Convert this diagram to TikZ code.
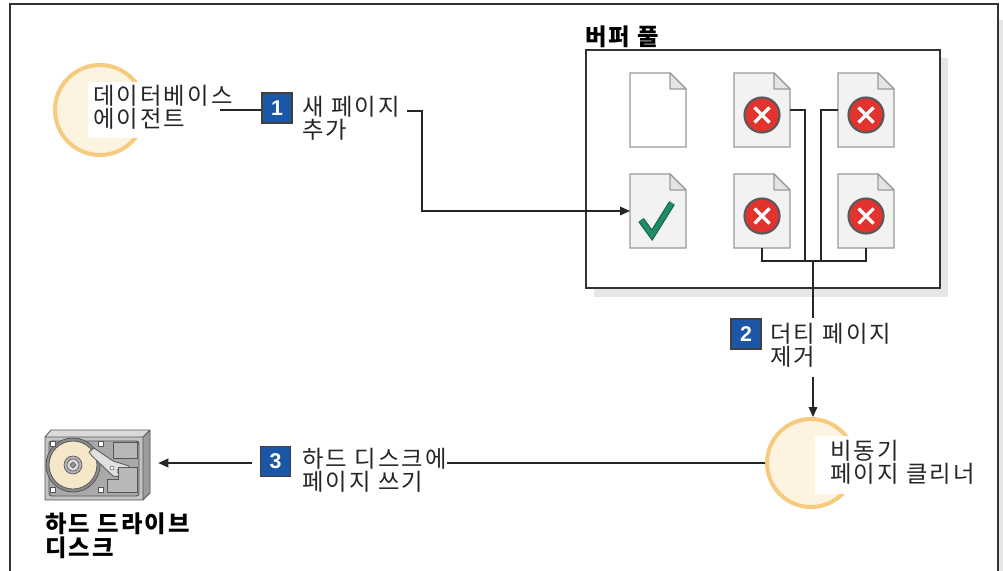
\documentclass[tikz,border=0pt]{standalone}
\usepackage{fontspec}
\setmainfont{Noto Sans CJK KR}[LetterSpace=9]
\newfontfamily\numfont{Liberation Sans}
\usetikzlibrary{arrows.meta,calc}

\definecolor{badgeblue}{HTML}{1B57A4}
\definecolor{ringgold}{HTML}{F6CB7E}
\definecolor{circfill}{HTML}{FCF3E0}
\definecolor{framegray}{HTML}{333333}
\definecolor{shadowgray}{HTML}{E6E6E6}
\definecolor{pagegray}{HTML}{F2F2F2}
\definecolor{pageedge}{HTML}{9A9A9A}
\definecolor{foldgray}{HTML}{E4E4E4}
\definecolor{xred}{HTML}{E2332F}
\definecolor{checkgreen}{HTML}{1E8E6A}
\definecolor{checkdark}{HTML}{14604A}
\definecolor{hddface}{HTML}{C4C4C4}
\definecolor{hddtop}{HTML}{DADADA}
\definecolor{hddside}{HTML}{9C9C9C}
\definecolor{hddpanel}{HTML}{A9A9A9}
\definecolor{hddedge}{HTML}{555555}
\definecolor{platter}{HTML}{F4E8C8}

\begin{document}
\begin{tikzpicture}[x=0.75pt,y=-0.75pt,
  txt/.style={font=\fontsize{17.5pt}{17.5pt}\selectfont, align=left, anchor=north west,
              inner sep=0pt, text=black!85},
  boldtxt/.style={txt, font=\fontsize{17.5pt}{17.5pt}\selectfont\bfseries, text=black},
  badge/.style={fill=badgeblue, draw=black!75, line width=0.9pt, minimum size=22.5pt,
                inner sep=0pt, text=white, font=\numfont\bfseries\fontsize{16pt}{16pt}\selectfont},
  actor/.style={circle, fill=circfill, draw=ringgold, line width=3pt, inner sep=0pt},
  pagebox/.style={minimum width=42pt, minimum height=55.5pt, inner sep=0pt, outer sep=0pt},
  pageline/.style={draw=pageedge, line width=0.9pt},
  conn/.style={draw=black!85, line width=1.1pt},
  arr/.style={conn, -{Triangle[length=7.5pt,width=6.5pt]}},
  pics/docsheet/.style={code={
    \draw[pageline, fill=#1] (0,0) -- (40,0) -- (56,16) -- (56,74) -- (0,74) -- cycle;
    \draw[pageline, fill=foldgray, line join=round] (40,0) -- (40,16) -- (56,16) -- cycle;
  }},
  pics/xmark/.style={code={
    \draw[fill=xred, draw=black!65, line width=1.6pt] (28,42) circle (17.5);
    \draw[white, line width=2.4pt] (20.5,34.5) -- (35.5,49.5) (20.5,49.5) -- (35.5,34.5);
  }},
  pics/checkmark/.style={code={
    \draw[checkdark, line width=5pt, line join=miter] (11,46) -- (22,61) -- (42,29);
    \draw[checkgreen, line width=3.3pt, line join=miter] (11,46) -- (22,61) -- (42,29);
  }}
]
\useasboundingbox (0,0) rectangle (1003,571);

% outer frame, open at the bottom
\fill[shadowgray] (999,20) rectangle (1003,571);
\draw[framegray, line width=1.5pt] (10,571) -- (10,4) -- (998,4) -- (998,571);

% buffer pool
\fill[shadowgray] (594,58) rectangle (948,297);
\node[draw=framegray, fill=white, line width=1.5pt, minimum width=265.5pt,
      minimum height=178.5pt, inner sep=0pt] (pool) at (763,169) {};
\node[boldtxt] (pooltitle) at (585,26) {버퍼 풀};

\node[pagebox] (p1) at (658,110) {};
\node[pagebox] (p2) at (762,110) {};
\node[pagebox] (p3) at (866,110) {};
\node[pagebox] (p4) at (658,211) {};
\node[pagebox] (p5) at (762,211) {};
\node[pagebox] (p6) at (866,211) {};
\pic at (p1.north west) {docsheet=white};
\pic at (p2.north west) {docsheet=pagegray};
\pic at (p3.north west) {docsheet=pagegray};
\pic at (p4.north west) {docsheet=pagegray};
\pic at (p5.north west) {docsheet=pagegray};
\pic at (p6.north west) {docsheet=pagegray};
\pic at (p2.north west) {xmark};
\pic at (p3.north west) {xmark};
\pic at (p5.north west) {xmark};
\pic at (p6.north west) {xmark};
\pic at (p4.north west) {checkmark};

% database agent
\node[actor, minimum size=67.5pt] (agent) at (100,110) {};
\fill[white] (88,82) rectangle (236,138);
\node[txt] (agenttxt) at (93,85) {데이터베이스\\에이전트};
\coordinate (agentout) at (220,110);

% step 1
\node[badge] (b1) at (277,108) {1};
\node[txt] (t1) at (302,96) {새 페이지\\추가};
\coordinate (t1out) at (407,111);

% step 2
\node[badge] (b2) at (746,334) {2};
\node[txt] (t2) at (770,323) {더티 페이지\\제거};
\coordinate (junc) at (813,261);
\coordinate (t2in) at (813,318);
\coordinate (t2out) at (813,377);

% page cleaner
\node[actor, minimum size=66pt] (cleaner) at (811,463) {};
\fill[white] (815,436) rectangle (985,494);
\node[txt] (cleanertxt) at (830,440) {비동기\\페이지 클리너};

% step 3
\node[badge] (b3) at (275.5,461.5) {3};
\node[txt] (t3) at (302,448) {하드 디스크에\\페이지 쓰기};
\coordinate (t3in) at (447,463);
\coordinate (t3out) at (252,463);

% hard drive
\node[minimum width=78.75pt, minimum height=52.5pt, inner sep=0pt] (hdd) at (97.5,463) {};
\fill[hddface] (45,437) -- (51,430) -- (150,430) -- (150,493) -- (143,500) -- (45,500) -- cycle;
\fill[hddtop] (45,437) -- (51,430) -- (150,430) -- (143,437) -- cycle;
\fill[hddside] (143,437) -- (150,430) -- (150,493) -- (143,500) -- cycle;
\draw[hddedge, line width=0.6pt, line join=round]
  (45,437) -- (51,430) -- (150,430) -- (150,493) -- (143,500) -- (45,500) -- cycle
  (45,437) -- (143,437) -- (143,500) (143,437) -- (150,430);
\draw[hddedge, fill=hddpanel, line width=0.7pt, rounded corners=2pt] (49,441) rectangle (139,496);
\draw[hddedge, fill=black!45, line width=0.6pt] (73,465) circle (27);
\draw[hddedge, fill=platter, line width=0.6pt] (73,465) circle (24);
\draw[hddedge, fill=black!30, line width=0.5pt] (73,465) circle (9);
\draw[hddedge, fill=black!15, line width=0.5pt] (73,465) circle (6);
\draw[hddedge, fill=black!40, line width=0.5pt] (73,465) circle (2.5);
\draw[hddedge, fill=black!12, line width=0.6pt, line join=round]
  (89,452) -- (94,448) -- (113,461) -- (129,466) -- (127,478) -- (113,476) -- (92,456) -- cycle;
\draw[hddedge, fill=white, line width=0.4pt] (112,468) circle (2) (119,471) circle (2);
\draw[hddedge, fill=black!28, line width=0.6pt] (113,442) rectangle (137,458);
\draw[hddedge, fill=black!28, line width=0.6pt]
  (118,467) -- (137,467) -- (137,492) -- (107,492) -- (107,479) -- (118,479) -- cycle;
\foreach \sx/\sy in {53/444, 101/444, 53/490, 101/490}
  \draw[hddedge, fill=white, line width=0.4pt] (\sx-2.5,\sy-2.5) rectangle (\sx+2.5,\sy+2.5);
\node[boldtxt] (hddtxt) at (45,513) {하드 드라이브\\디스크};

% connectors
\draw[conn] (agentout) -- (agentout -| b1.west);
\draw[arr] (t1out) -- ++(15,0) |- (p4.west);
\draw[conn] (p2.east) -- ++(15,0) |- (junc);
\draw[conn] (p3.west) -- ++(-17,0) |- (junc);
\draw[conn] (p5.south) -- ++(0,13) -| (p6.south);
\draw[conn] (junc) -- (t2in);
\draw[arr] (t2out) -- (t2out |- cleaner.north);
\draw[conn] (cleaner.west) -- (t3in);
\draw[arr] (t3out) -- ($(hdd.east)+(8,0)$);
\end{tikzpicture}
\end{document}
